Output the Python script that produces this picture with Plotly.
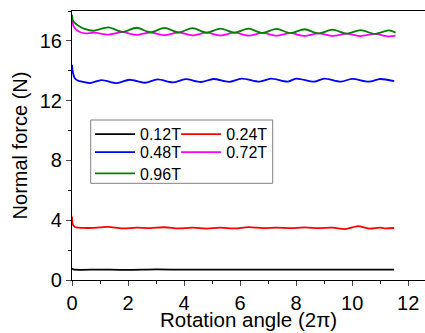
import plotly.graph_objects as go

# ---- data ----
x_012 = [0, 0.05, 1, 2, 3, 4, 5, 6, 7, 8, 9, 10, 11, 11.5]
y_012 = [0.78, 0.71, 0.70, 0.68, 0.71, 0.69, 0.70, 0.69, 0.70, 0.70, 0.69, 0.70, 0.69, 0.70]

x_024 = [0, 0.03, 0.1, 0.5, 1.0, 1.3, 1.8, 2.3, 2.8, 3.3, 3.8, 4.3, 4.8, 5.3, 5.8, 6.3, 6.8,
         7.3, 7.8, 8.3, 8.8, 9.3, 9.75, 10.2, 10.6, 11.0, 11.2, 11.5]
y_024 = [4.25, 3.70, 3.55, 3.48, 3.52, 3.55, 3.45, 3.50, 3.47, 3.53, 3.45, 3.50, 3.44, 3.50,
         3.45, 3.54, 3.47, 3.50, 3.47, 3.52, 3.47, 3.50, 3.40, 3.60, 3.44, 3.50, 3.45, 3.48]

x_048 = [0, 0.03, 0.1, 0.2, 0.4, 0.65, 1.05, 1.6, 2.05, 2.6, 3.05, 3.6, 4.05, 4.6, 5.05, 5.6,
         6.05, 6.7, 7.1, 7.7, 8.0, 8.65, 9.0, 9.6, 10.0, 10.6, 11.0, 11.5]
y_048 = [14.4, 13.9, 13.5, 13.35, 13.25, 13.18, 13.38, 13.18, 13.40, 13.20, 13.42, 13.22, 13.44,
         13.25, 13.45, 13.26, 13.47, 13.27, 13.47, 13.27, 13.48, 13.27, 13.47, 13.27, 13.46,
         13.27, 13.45, 13.30]

x_072 = [0, 0.05, 0.15, 0.3, 0.5, 0.8, 1.3, 1.8, 2.3, 2.8, 3.3, 3.8, 4.3, 4.8, 5.3, 5.8, 6.3,
         6.8, 7.3, 7.8, 8.3, 8.8, 9.3, 9.8, 10.3, 10.8, 11.3, 11.55]
y_072 = [17.5, 17.0, 16.75, 16.58, 16.50, 16.55, 16.42, 16.58, 16.40, 16.56, 16.38, 16.56, 16.37,
         16.55, 16.36, 16.55, 16.35, 16.53, 16.35, 16.52, 16.33, 16.50, 16.33, 16.48, 16.32,
         16.47, 16.30, 16.35]

x_096 = [0, 0.05, 0.2, 0.45, 0.75, 1.3, 1.8, 2.3, 2.8, 3.3, 3.8, 4.3, 4.8, 5.3, 5.8, 6.3, 6.8,
         7.3, 7.8, 8.3, 8.8, 9.3, 9.8, 10.3, 10.8, 11.3, 11.55]
y_096 = [17.75, 17.3, 17.05, 16.8, 16.68, 16.90, 16.60, 16.88, 16.58, 16.87, 16.57, 16.85, 16.55,
         16.82, 16.55, 16.82, 16.53, 16.80, 16.52, 16.78, 16.50, 16.75, 16.48, 16.72, 16.47,
         16.70, 16.55]

# (name, x, y, colour, legend id, legend column x [paper], legend row top y [paper])
series = [
    ("0.12T", x_012, y_012, "#000000", "legend",  0.051, 0.605),
    ("0.24T", x_024, y_024, "#ff0000", "legend2", 0.295, 0.605),
    ("0.48T", x_048, y_048, "#0000ff", "legend3", 0.051, 0.538),
    ("0.72T", x_072, y_072, "#ff00ff", "legend4", 0.295, 0.538),
    ("0.96T", x_096, y_096, "#008000", "legend5", 0.051, 0.459),
]

x_ticks = [0, 2, 4, 6, 8, 10, 12]
y_ticks = [0, 4, 8, 12, 16]

FONT = "Liberation Sans, Arial, sans-serif"

fig = go.Figure()
legend_common = dict(bgcolor="rgba(0,0,0,0)", borderwidth=0, visible=True,
                     font=dict(size=16, color="black", family=FONT),
                     orientation="v", xanchor="left", yanchor="top", tracegroupgap=0, itemwidth=40)
legends = {}
for name, xs, ys, col, lg, lx, ly in series:
    fig.add_trace(go.Scatter(x=xs, y=ys, mode="lines", name=name, legend=lg, showlegend=True,
                             line=dict(color=col, width=1.8, shape="spline", smoothing=0.8)))
    legends[lg] = dict(x=lx, y=ly, **legend_common)

fig.update_layout(
    width=425, height=333,
    showlegend=True,
    margin=dict(l=72, r=0, t=11, b=53, autoexpand=False),
    paper_bgcolor="white", plot_bgcolor="white",
    font=dict(family=FONT, size=20, color="black"),
    xaxis=dict(range=[0, 12.6], tickvals=x_ticks, ticks="outside", ticklen=5, tickwidth=1,
               showline=True, linecolor="black", linewidth=1.2, mirror=True, showgrid=False,
               zeroline=False, tickfont=dict(size=20), automargin=False,
               minor=dict(dtick=1, tick0=0, ticks="outside", ticklen=3, tickcolor="black")),
    yaxis=dict(range=[0, 18], tickvals=y_ticks, ticks="outside", ticklen=5, tickwidth=1,
               showline=True, linecolor="black", linewidth=1.2, showgrid=False, zeroline=False,
               tickfont=dict(size=20), automargin=False,
               minor=dict(dtick=2, tick0=0, ticks="outside", ticklen=3, tickcolor="black"),
               title=dict(text="Normal force (N)", font=dict(size=20), standoff=6)),
    **legends,
)

fig.add_annotation(text="Rotation angle (2π)", xref="paper", yref="paper", x=0.501, y=0,
                   yshift=-39, xanchor="center", yanchor="middle", showarrow=False,
                   font=dict(size=20.5, family=FONT, color="black"))

# legend frame
fig.add_shape(type="rect", xref="paper", yref="paper",
              x0=(90.7 - 72) / 353, x1=(272.7 - 72) / 353,
              y0=(280 - 183.3) / 269, y1=(280 - 120) / 269,
              line=dict(color="#808080", width=1), fillcolor="rgba(0,0,0,0)", layer="above")

fig.write_html("out.html", config={"displayModeBar": False},
               post_script="document.body.style.margin='0';document.body.style.padding='0';")
